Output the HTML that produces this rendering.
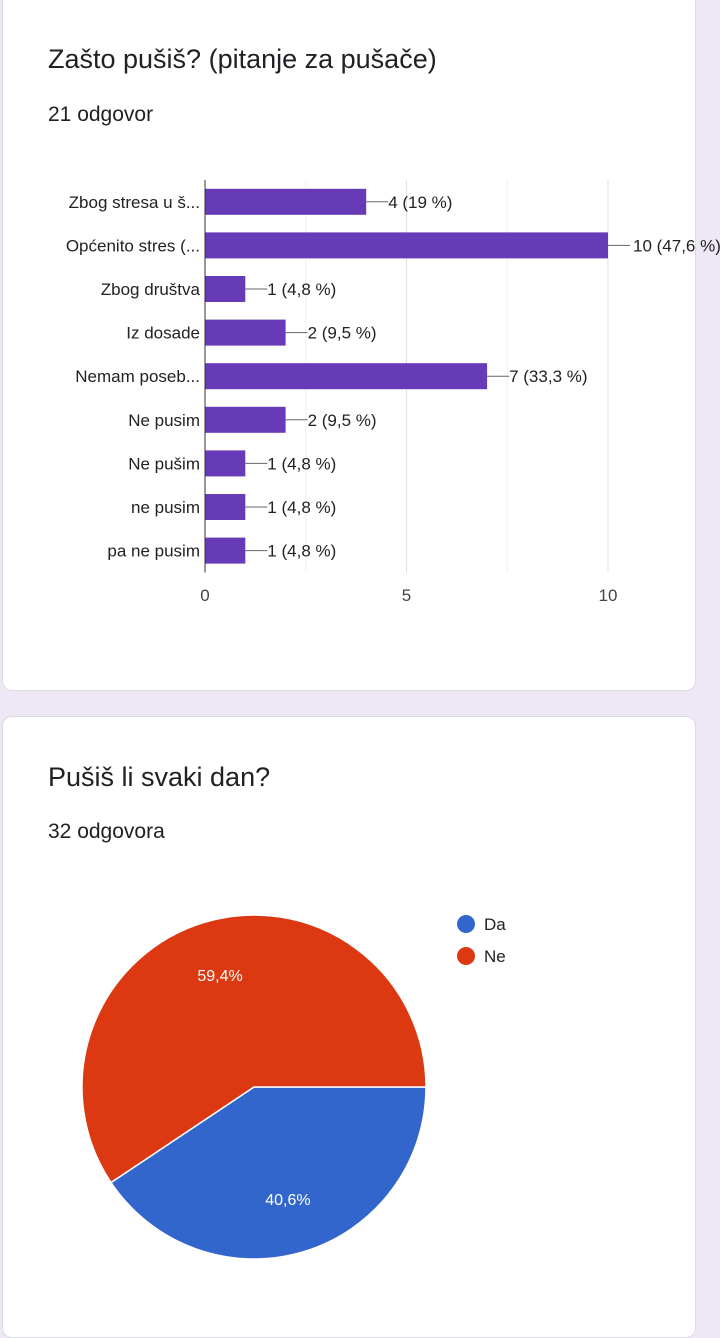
<!DOCTYPE html>
<html><head><meta charset="utf-8"><style>
body{margin:0;width:720px;height:1314px;background:#ede7f6;font-family:"Liberation Sans",sans-serif;overflow:hidden;position:relative}
.card{position:absolute;background:#fff;border:1px solid #dadce0;border-radius:10px}
.t{position:absolute;color:#202124}
</style></head><body>
<div class="card" style="left:2px;top:-10px;width:692px;height:699px"></div>
<div class="t" style="left:48px;top:44px;font-size:27px">Zašto pušiš? (pitanje za pušače)</div>
<div class="t" style="left:48px;top:103px;font-size:21px">21 odgovor</div>
<svg id="bar" style="position:absolute;left:0;top:0" width="720" height="690"></svg>
<div class="card" style="left:2px;top:716px;width:692px;height:620px"></div>
<div class="t" style="left:48px;top:762px;font-size:27px">Pušiš li svaki dan?</div>
<div class="t" style="left:48px;top:820px;font-size:21px">32 odgovora</div>
<svg id="pie" style="position:absolute;left:0;top:716px" width="720" height="598"></svg>
<script>
const categories=["Zbog stresa u š...","Općenito stres (...","Zbog društva","Iz dosade","Nemam poseb...","Ne pusim","Ne pušim","ne pusim","pa ne pusim"];
const values=[4,10,1,2,7,2,1,1,1];
const valueLabels=["4 (19 %)","10 (47,6 %)","1 (4,8 %)","2 (9,5 %)","7 (33,3 %)","2 (9,5 %)","1 (4,8 %)","1 (4,8 %)","1 (4,8 %)"];
const ticks=[0,5,10];
const NS="http://www.w3.org/2000/svg";
const bar=document.getElementById('bar');
const x0=205,pxu=40.3,top0=180,rowH=43.6;
const X=v=>x0+v*pxu, Y=i=>top0+i*rowH+rowH/2;
function mk(svg,tag,a,txt){const e=document.createElementNS(NS,tag);for(const k in a)e.setAttribute(k,a[k]);if(txt!=null)e.textContent=txt;svg.appendChild(e);return e;}
ticks.forEach(t=>{
 const g=mk(bar,'line',{x1:X(t),x2:X(t),y1:top0,y2:top0+rowH*9,stroke:t===0?'#333':'#e0e0e0','stroke-width':1});
 
 
 const l=mk(bar,'text',{x:X(t),y:601,'text-anchor':'middle','font-size':17,fill:'#444'},String(t));
 
 
});
[2.5,7.5].forEach(t=>{const g=mk(bar,'line',{x1:X(t),x2:X(t),y1:top0,y2:top0+rowH*9,stroke:'#f0f0f0'});
 
 });
mk(bar,'line',{x1:X(10),x2:X(10),y1:top0,y2:top0+rowH*9,stroke:'#e0e0e0'});
categories.forEach((c,i)=>{
 const y=Y(i);
 const lab=mk(bar,'text',{x:200,y:y+6,'text-anchor':'end','font-size':17,fill:'#222'},c);
 
 
 const r=mk(bar,'rect',{x:X(0),y:y-13,width:X(values[i])-X(0),height:26,fill:'#673ab7'});
 
 
 const xe=X(values[i]);
 mk(bar,'line',{x1:xe,x2:xe+22,y1:y,y2:y,stroke:'#666'});
 const vl=mk(bar,'text',{x:xe+(values[i]>=10?25:22),y:y+6,'font-size':17,fill:'#222'},valueLabels[i]);
 
 
});
mk(bar,'line',{x1:x0,x2:x0,y1:top0,y2:top0+rowH*9,stroke:'#333'});

const pieLabels=["Da","Ne"];
const pieValues=[13,19];
const pieColors=["#3366cc","#dc3912"];
const pie=document.getElementById('pie');
const cx=254,cy=371,R=172;
const tot=pieValues.reduce((a,b)=>a+b,0);
let a=Math.PI/2;
pieValues.forEach((v,i)=>{
 const s=a,e=a+v/tot*2*Math.PI;a=e;
 const p=t=>[cx+R*Math.sin(t),cy-R*Math.cos(t)];
 const [x1,y1]=p(s),[x2,y2]=p(e);
 const sl=mk(pie,'path',{d:`M${cx},${cy}L${x1},${y1}A${R},${R} 0 ${e-s>Math.PI?1:0} 1 ${x2},${y2}Z`,fill:pieColors[i],stroke:'#fff','stroke-width':1.5});
 
 
 const m=(s+e)/2,[lx,ly]=[cx+R*0.68*Math.sin(m),cy-R*0.68*Math.cos(m)];
 const pl=mk(pie,'text',{x:lx,y:ly+6,'text-anchor':'middle','font-size':16,fill:'#fff'},(v/tot*100).toFixed(1).replace('.',',')+'%');
 
 
 const c=mk(pie,'circle',{cx:466,cy:208+i*32,r:9,fill:pieColors[i]});
 
 
 const lt=mk(pie,'text',{x:484,y:214+i*32,'font-size':17,fill:'#222'},pieLabels[i]);
 
 
});
</script>
</body></html>
